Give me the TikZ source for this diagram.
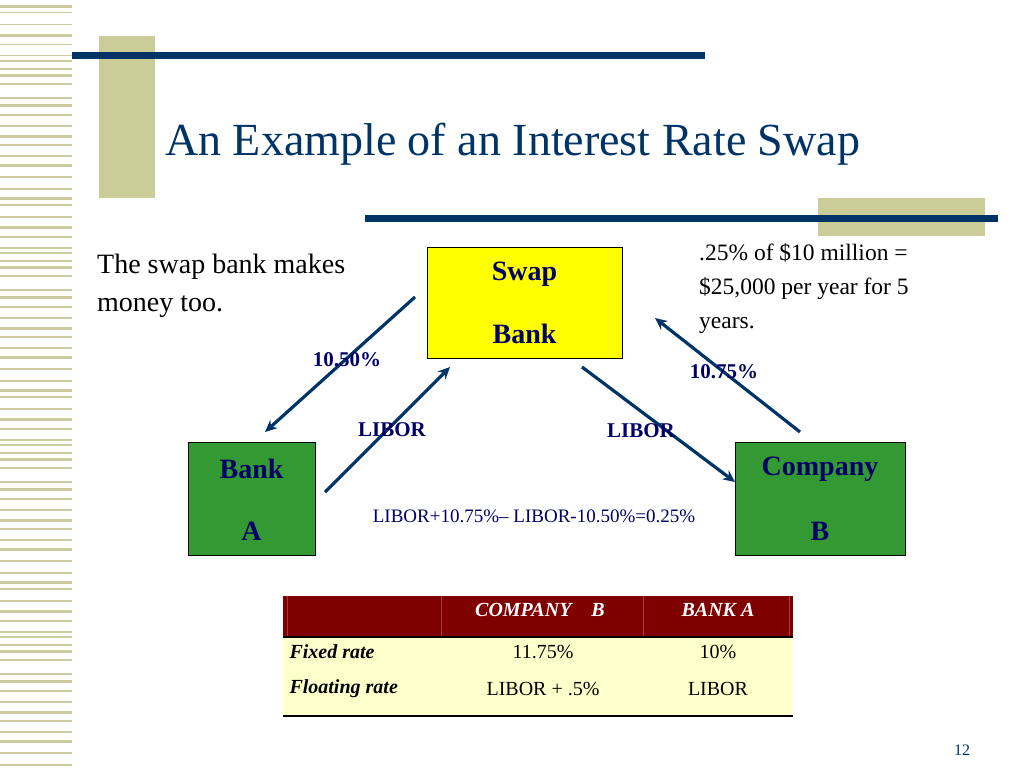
\documentclass[tikz,border=0pt]{standalone}
\usepackage{fontspec}
\setmainfont{Liberation Serif}
\usetikzlibrary{arrows.meta}
\definecolor{navyc}{RGB}{0,51,102}
\definecolor{darknavy}{RGB}{0,0,102}
\definecolor{stripec}{RGB}{205,203,160}
\definecolor{khaki}{RGB}{204,204,153}
\definecolor{ybox}{RGB}{255,255,0}
\definecolor{gbox}{RGB}{51,153,51}
\definecolor{hdr}{RGB}{128,0,0}
\definecolor{hdrline}{RGB}{160,60,60}
\definecolor{body}{RGB}{255,255,204}
\begin{document}
\begin{tikzpicture}[x=1pt,y=-1pt,
  navy/.style={draw=none,fill=navyc},
  arr/.style={draw=navyc,line width=3.2pt,-{Stealth[length=12pt,width=11pt]}},
  lbl/.style={font=\fontsize{21}{24}\selectfont\bfseries,text=darknavy},
  boxtxt/.style={font=\fontsize{28}{60}\selectfont\bfseries,text=darknavy,align=center},
  cell/.style={font=\fontsize{20}{24}\selectfont},
  celli/.style={font=\fontsize{20}{24}\selectfont\bfseries\itshape}]
\useasboundingbox (0,0) rectangle (1024,768);
\fill[white] (0,0) rectangle (1024,768);
% left stripes
\foreach \y/\h in {5/3,12/1.5,24/1.5,34/3,44/1.5,55/1.5,60/1.5,68/1.5,74/3,83/1.5,97/1.5,104/3,114/1.5,125/1.5,135/3,144/1.5,155/1.5,164/3,176/1.5,188/1.5}{
  \fill[stripec] (0,\y) rectangle (72,\y+\h);
  \fill[stripec] (0,\y+192) rectangle (72,\y+192+\h);
  \fill[stripec] (0,\y+384) rectangle (72,\y+384+\h);
  \fill[stripec] (0,\y+576) rectangle (72,\y+576+\h);
}
\fill[khaki] (99,36) rectangle (155,198);
\fill[navy] (72,52) rectangle (705,59);
\node[anchor=base west,inner sep=0,font=\fontsize{46}{50}\selectfont,text=navyc] (title) at (165,155) {An Example of an Interest Rate Swap};
\fill[khaki] (818,198) rectangle (985,236);
\fill[navy] (365,215) rectangle (998,222);
% boxes
\node[draw=black,fill=ybox,minimum width=195pt,minimum height=111pt,inner sep=0] (sb) at (524.5,302.5) {};
\node[boxtxt] (sb1) at (524.5,274) {Swap};
\node[boxtxt] (sb2) at (524.5,334) {Bank};
\node[draw=black,fill=gbox,minimum width=127pt,minimum height=113pt,inner sep=0] (ba) at (251.5,498.5) {};
\node[boxtxt] (ba1) at (251.5,469) {Bank};
\node[boxtxt] (ba2) at (251.5,531) {A};
\node[draw=black,fill=gbox,minimum width=170pt,minimum height=113pt,inner sep=0] (cb) at (820,498.5) {};
\node[boxtxt] (cb1) at (820,469) {Company};
\node[boxtxt] (cb2) at (820,531) {B};
% arrows
\coordinate (a1) at (415,297); \coordinate (a2) at (325,492);
\coordinate (a3) at (582,367); \coordinate (a4) at (800,432);
\coordinate (t1) at (265,432); \coordinate (t2) at (450,367);
\coordinate (t3) at (735,482); \coordinate (t4) at (655,318);
\draw[arr] (a1) -- (t1);
\draw[arr] (a2) -- (t2);
\draw[arr] (a3) -- (t3);
\draw[arr] (a4) -- (t4);
\node[lbl] (l1) at (347,360) {10.50\%};
\node[lbl] (l2) at (392,430) {LIBOR};
\node[lbl] (l3) at (641,431) {LIBOR};
\node[lbl] (l4) at (724,372) {10.75\%};
\node[font=\fontsize{19}{22}\selectfont,text=darknavy] (eq) at (534,516) {LIBOR+10.75\%– LIBOR-10.50\%=0.25\%};
\node[anchor=north west,align=left,inner sep=0,font=\fontsize{28}{38}\selectfont] (t1x) at (97,254) {The swap bank makes\\money too.};
\node[anchor=north west,align=left,inner sep=0,font=\fontsize{23.5}{34}\selectfont] (t2x) at (699,243) {.25\% of \$10 million =\\\$25,000 per year for 5\\years.};
% table
\fill[hdr] (283,596) rectangle (793,637);
\fill[body] (283,637) rectangle (793,715);
\draw[hdrline,line width=0.6pt] (441,596) -- (441,637) (643,596) -- (643,637) (287,596)--(287,637) (789,596)--(789,637);
\draw[black,line width=1.2pt] (283,637) -- (793,637);
\draw[black,line width=1.5pt] (283,716) -- (793,716);
\node[celli,text=white] (h1) at (540,610) {COMPANY\quad B};
\node[celli,text=white] (h2) at (718,610) {BANK A};
\node[celli,anchor=west] (r1) at (286,652) {Fixed rate};
\node[celli,anchor=west] (r2) at (286,689) {Floating rate};
\node[cell] (c11) at (543,652) {11.75\%};
\node[cell] (c12) at (718,652) {10\%};
\node[cell] (c21) at (543,689) {LIBOR + .5\%};
\node[cell] (c22) at (718,689) {LIBOR};
\node[font=\fontsize{16}{18}\selectfont,text=navyc] (pg) at (962,750) {12};
\end{tikzpicture}
\end{document}
